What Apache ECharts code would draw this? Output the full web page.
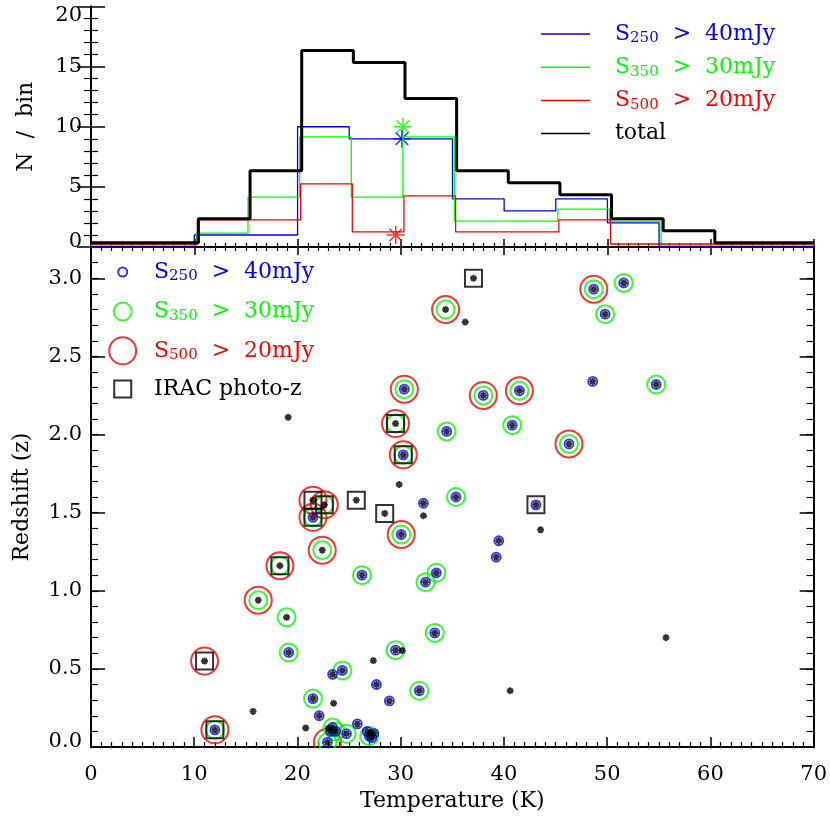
<!DOCTYPE html>
<html lang="en">
<head>
<meta charset="UTF-8" />
<title>Temperature vs redshift</title>
<script src="https://cdn.jsdelivr.net/npm/echarts@6/dist/echarts.min.js"></script>
<style>
  html, body { margin: 0; padding: 0; background: #fff; }
  #chart { width: 830px; height: 830px; }
</style>
</head>
<body>
<div id="chart"></div>
<script>
// ---- histogram (top panel) ----
var binEdges = [0, 5, 10, 15, 20, 25, 30, 35, 40, 45, 50, 55, 60, 65, 70];
var nTotal = [0, 0, 2, 6, 16, 15, 12, 6, 5, 4, 2, 1, 0, 0];
var n250   = [0, 0, 1, 1, 10, 9, 9, 4, 3, 4, 2, 0, 0, 0];
var n350   = [0, 0, 1, 4, 9, 4, 9, 2, 2, 3, 2, 0, 0, 0];
var n500   = [0, 0, 2, 2, 5, 1, 4, 1, 1, 2, 0, 0, 0, 0];
// asterisks near 30 K  [250, 350, 500]
var starT = [30.1, 30.2, 29.5];
var starN = [9, 10, 1];

// ---- sources (bottom panel) ----
// flags: b = S250>40mJy, g = S350>30mJy, r = S500>20mJy, s = IRAC photo-z
var srcT = [12.0, 11.0, 16.2, 18.3, 22.4, 21.5, 22.6, 21.5, 22.9, 30.05, 30.25, 29.5, 30.35, 34.35, 38.0, 41.5, 46.3, 48.7,
            51.6, 49.8, 54.75, 34.45, 40.8, 35.35, 26.25, 33.45, 32.4, 18.95, 33.3, 29.5, 19.15, 24.35, 31.8, 21.5, 23.4, 24.75, 26.95, 23.7,
            32.2, 43.1, 39.5, 39.25, 48.6, 23.4, 27.65, 28.9, 22.1, 25.8, 26.75, 27.4, 27.2, 23.2,
            37.05, 25.7, 28.45,
            36.25, 19.1, 29.85, 32.2, 43.55, 30.15, 27.35, 40.6, 55.7, 23.5, 15.7, 20.8, 23.0, 27.1];
var srcZ = [0.11, 0.55, 0.94, 1.16, 1.26, 1.58, 1.55, 1.47, 0.03, 1.36, 1.87, 2.07, 2.29, 2.80, 2.25, 2.28, 1.94, 2.93,
            2.97, 2.77, 2.32, 2.02, 2.06, 1.60, 1.10, 1.115, 1.055, 0.83, 0.73, 0.62, 0.605, 0.49, 0.36, 0.31, 0.125, 0.085, 0.07, 0.10,
            1.56, 1.55, 1.32, 1.215, 2.34, 0.465, 0.40, 0.295, 0.20, 0.148, 0.10, 0.087, 0.06, 0.10,
            3.0, 1.58, 1.495,
            2.72, 2.11, 1.68, 1.48, 1.39, 0.617, 0.553, 0.36, 0.70, 0.28, 0.228, 0.122, 0.12, 0.09];
var srcFlag = ['bgrs', 'rs', 'gr', 'grs', 'gr', 'rs', 'grs', 'bgrs', 'bgr', 'bgr', 'bgrs', 'grs', 'bgr', 'gr', 'bgr', 'bgr', 'bgr', 'bgr',
               'bg', 'bg', 'bg', 'bg', 'bg', 'bg', 'bg', 'bg', 'bg', 'g', 'bg', 'bg', 'bg', 'bg', 'bg', 'bg', 'bg', 'bg', 'bg', 'bg',
               'b', 'bs', 'b', 'b', 'b', 'b', 'b', 'b', 'b', 'b', 'b', 'b', 'b', 'b',
               's', 's', 's',
               '', '', '', '', '', '', '', '', '', '', '', '', '', ''];

var FONT = 'DejaVu Serif';
var BLUE = '#0000ff', GREEN = '#00ff00', RED = '#ff0000';
var ASTER = 'path://M0,-10L0,10M-10,0L10,0M-7,-7L7,7M-7,7L7,-7';

// step line points; small offsets keep overlapping steps visible
function steps(counts, dx, dy) {
  var d = [];
  for (var i = 0; i < counts.length; i++) {
    d.push([i === 0 ? binEdges[0] : binEdges[i] + dx, counts[i] + dy]);
  }
  d.push([binEdges[binEdges.length - 1], counts[counts.length - 1] + dy]);
  return d;
}
function pick(flag) {
  var d = [];
  for (var i = 0; i < srcT.length; i++) {
    if (flag === '*' || srcFlag[i].indexOf(flag) >= 0) d.push([srcT[i], srcZ[i]]);
  }
  return d;
}

function xAx(grid, pos, big, small, labels) {
  return {
    type: 'value', gridIndex: grid, position: pos, min: 0, max: 70, interval: 10,
    axisLine: { lineStyle: { color: '#000', width: 2 } },
    axisTick: { inside: true, length: big, lineStyle: { color: '#000', width: 1.5 } },
    minorTick: { show: true, splitNumber: 10, length: small, lineStyle: { color: '#000', width: 1.2 } },
    axisLabel: { show: labels, margin: 17, color: '#000', fontFamily: FONT, fontSize: 21 },
    splitLine: { show: false }
  };
}

var rich = {
  // end labels nudged inward like the original
  dn: { color: '#000', fontFamily: FONT, fontSize: 21, padding: [19, 0, 0, 0] },
  up: { color: '#000', fontFamily: FONT, fontSize: 21, padding: [0, 0, 10, 0] }
};
[['b', BLUE], ['g', GREEN], ['r', RED], ['k', '#000']].forEach(function (c) {
  rich['t' + c[0]] = { color: c[1], fontFamily: FONT, fontSize: 22, lineHeight: 24 };
  rich['s' + c[0]] = { color: c[1], fontFamily: FONT, fontSize: 15, lineHeight: 12, verticalAlign: 'bottom' };
});
var legendText = {
  h250: '{tb|S}{sb|250}{tb|  >  40mJy}', h350: '{tg|S}{sg|350}{tg|  >  30mJy}',
  h500: '{tr|S}{sr|500}{tr|  >  20mJy}', htot: '{tk|total}',
  c250: '{tb|S}{sb|250}{tb|  >  40mJy}', c350: '{tg|S}{sg|350}{tg|  >  30mJy}',
  c500: '{tr|S}{sr|500}{tr|  >  20mJy}', irac: '{tk|IRAC photo-z}'
};
function fmt(name) { return legendText[name]; }

function oneLegend(name, icon, size, color, cy) {
  var left = 121.7 - size / 2;
  var h = Math.max(size + 2, 24);
  return {
    data: [name], orient: 'vertical', left: left, top: cy - h / 2, padding: 0,
    icon: icon, itemWidth: size, itemHeight: size, selectedMode: false,
    itemStyle: { color: 'transparent', borderColor: color, borderWidth: 2 },
    formatter: fmt, textStyle: { padding: [0, 0, 0, 153 - (left + size + 5)], rich: rich }
  };
}

var chart = echarts.init(document.getElementById('chart'));
var option = {
  animation: false,
  backgroundColor: '#fff',
  grid: [
    { left: 91, top: 6.5, width: 723, height: 240.5 },
    { left: 91, top: 247, width: 723, height: 500 }
  ],
  xAxis: [
    xAx(0, 'bottom', 8, 4, false),
    xAx(0, 'top', 8, 4, false),
    Object.assign(xAx(1, 'bottom', 10, 5, true), {
      name: 'Temperature (K)', nameLocation: 'middle', nameGap: 42,
      nameTextStyle: { color: '#000', fontFamily: FONT, fontSize: 22 }
    }),
    xAx(1, 'top', 10, 5, false)
  ],
  yAxis: [
    {
      type: 'value', gridIndex: 0, position: 'left', min: 0, max: 20, interval: 5,
      name: 'N  /  bin', nameLocation: 'middle', nameGap: 54,
      nameTextStyle: { color: '#000', fontFamily: FONT, fontSize: 22 },
      axisLine: { lineStyle: { color: '#000', width: 2 } },
      axisTick: { inside: true, length: 14, lineStyle: { color: '#000', width: 1.5 } },
      minorTick: { show: true, splitNumber: 5, length: 7, lineStyle: { color: '#000', width: 1.2 } },
      axisLabel: { margin: 9, color: '#000', fontFamily: FONT, fontSize: 21, rich: rich,
                   formatter: function (v) { return v === 20 ? '{dn|20}' : v === 0 ? '{up|0}' : String(v); } },
      splitLine: { show: false }
    },
    {
      type: 'value', gridIndex: 0, position: 'right', min: 0, max: 20, interval: 5,
      axisLine: { lineStyle: { color: '#000', width: 2 } },
      axisTick: { inside: true, length: 14, lineStyle: { color: '#000', width: 1.5 } },
      minorTick: { show: true, splitNumber: 5, length: 7, lineStyle: { color: '#000', width: 1.2 } },
      axisLabel: { show: false }, splitLine: { show: false }
    },
    {
      type: 'value', gridIndex: 1, position: 'left', min: 0, max: 3.2, interval: 0.5,
      name: 'Redshift (z)', nameLocation: 'middle', nameGap: 58,
      nameTextStyle: { color: '#000', fontFamily: FONT, fontSize: 22 },
      axisLine: { lineStyle: { color: '#000', width: 2 } },
      axisTick: { inside: true, length: 14, lineStyle: { color: '#000', width: 1.5 } },
      axisLabel: { margin: 9, color: '#000', fontFamily: FONT, fontSize: 21, showMaxLabel: false, rich: rich,
                   formatter: function (v) { return v === 0 ? '{up|0.0}' : v.toFixed(1); } },
      splitLine: { show: false }
    },
    {
      type: 'value', gridIndex: 1, position: 'left', min: 0, max: 3.2, interval: 0.1,
      axisLine: { show: false },
      axisTick: { inside: true, length: 7, lineStyle: { color: '#000', width: 1.2 } },
      axisLabel: { show: false }, splitLine: { show: false }
    },
    {
      type: 'value', gridIndex: 1, position: 'right', min: 0, max: 3.2, interval: 0.5,
      axisLine: { lineStyle: { color: '#000', width: 2 } },
      axisTick: { inside: true, length: 14, lineStyle: { color: '#000', width: 1.5 } },
      axisLabel: { show: false }, splitLine: { show: false }
    },
    {
      type: 'value', gridIndex: 1, position: 'right', min: 0, max: 3.2, interval: 0.1,
      axisLine: { show: false },
      axisTick: { inside: true, length: 7, lineStyle: { color: '#000', width: 1.2 } },
      axisLabel: { show: false }, splitLine: { show: false }
    }
  ],
  legend: [
    {
      data: ['h250', 'h350', 'h500', 'htot'], orient: 'vertical', left: 541, top: 23, padding: 0,
      icon: 'rect', itemWidth: 49, itemHeight: 1.5, itemGap: 10.2, selectedMode: false,
      formatter: fmt, textStyle: { padding: [0, 0, 0, 20], rich: rich }
    },
    oneLegend('c250', 'circle', 9, BLUE, 273),
    oneLegend('c350', 'circle', 18, GREEN, 312.5),
    oneLegend('c500', 'circle', 27, RED, 350.8),
    oneLegend('irac', 'rect', 17, '#000', 390)
  ],
  // white strip under the lower frame: symbols are cut at the axis as in the original
  graphic: [{
    type: 'rect', z: 100, silent: true,
    shape: { x: 60, y: 748.2, width: 770, height: 15 },
    style: { fill: '#fff' }
  }],
  series: [
    { name: 'h250', type: 'line', xAxisIndex: 0, yAxisIndex: 0, step: 'end', symbol: 'none',
      color: BLUE, lineStyle: { color: BLUE, width: 1.3 }, data: steps(n250, 0, 0) },
    { name: 'h350', type: 'line', xAxisIndex: 0, yAxisIndex: 0, step: 'end', symbol: 'none',
      color: GREEN, lineStyle: { color: GREEN, width: 1.3 }, data: steps(n350, 0.2, 0.15) },
    { name: 'h500', type: 'line', xAxisIndex: 0, yAxisIndex: 0, step: 'end', symbol: 'none',
      color: RED, lineStyle: { color: RED, width: 1.3 }, data: steps(n500, 0.3, 0.25) },
    { name: 'htot', type: 'line', xAxisIndex: 0, yAxisIndex: 0, step: 'end', symbol: 'none',
      color: '#000', lineStyle: { color: '#000', width: 3 }, data: steps(nTotal, 0.4, 0.35) },
    { type: 'scatter', xAxisIndex: 0, yAxisIndex: 0, symbol: ASTER, symbolSize: 18,
      itemStyle: { color: 'transparent', borderColor: GREEN, borderWidth: 1.5 }, data: [[starT[1], starN[1]]] },
    { type: 'scatter', xAxisIndex: 0, yAxisIndex: 0, symbol: ASTER, symbolSize: 18,
      itemStyle: { color: 'transparent', borderColor: BLUE, borderWidth: 1.5 }, data: [[starT[0], starN[0]]] },
    { type: 'scatter', xAxisIndex: 0, yAxisIndex: 0, symbol: ASTER, symbolSize: 18,
      itemStyle: { color: 'transparent', borderColor: RED, borderWidth: 1.5 }, data: [[starT[2], starN[2]]] },

    { name: 'c500', type: 'scatter', xAxisIndex: 2, yAxisIndex: 2, symbol: 'circle', symbolSize: 27,
      itemStyle: { color: 'transparent', borderColor: RED, borderWidth: 2 }, data: pick('r') },
    { name: 'c350', type: 'scatter', xAxisIndex: 2, yAxisIndex: 2, symbol: 'circle', symbolSize: 18,
      itemStyle: { color: 'transparent', borderColor: GREEN, borderWidth: 2 }, data: pick('g') },
    { name: 'irac', type: 'scatter', xAxisIndex: 2, yAxisIndex: 2, symbol: 'rect', symbolSize: 17,
      itemStyle: { color: 'transparent', borderColor: '#000', borderWidth: 2 }, data: pick('s') },
    { name: 'c250', type: 'scatter', xAxisIndex: 2, yAxisIndex: 2, symbol: 'circle', symbolSize: 9,
      itemStyle: { color: 'transparent', borderColor: BLUE, borderWidth: 1.8 }, data: pick('b') },
    { type: 'scatter', xAxisIndex: 2, yAxisIndex: 2, symbol: ASTER, symbolSize: 7,
      itemStyle: { color: 'transparent', borderColor: '#000', borderWidth: 1.9 }, data: pick('*') }
  ]
};
chart.setOption(option);
</script>
</body>
</html>
